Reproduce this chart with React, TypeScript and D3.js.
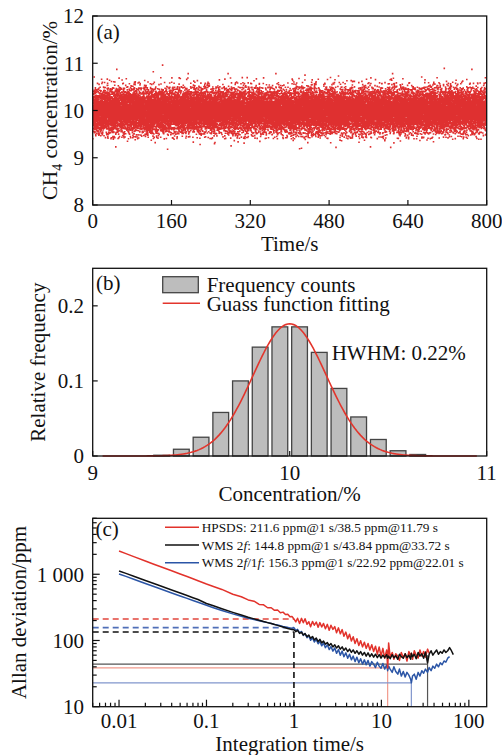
import React from 'react';
import * as d3 from 'd3';

const FONT = "'Liberation Serif','Times New Roman',Times,serif";

// ---------- Panel (a): CH4 concentration time series ----------
const TIME_DOMAIN: [number, number] = [0, 800];
const CONC_DOMAIN: [number, number] = [8, 12];
const TIME_TICKS = [0, 160, 320, 480, 640, 800];
const CONC_TICKS = [8, 9, 10, 11, 12];
// isolated outlying samples
const OUTLIER_T = [3, 49, 123, 142, 194, 275, 372, 431, 499, 556, 609, 668, 714, 770, 47, 127, 152, 218, 281, 420, 424, 494, 564, 605, 692, 731];
const OUTLIER_V = [10.71, 10.87, 10.82, 10.96, 10.78, 10.78, 10.78, 10.75, 10.73, 10.66, 10.78, 10.71, 10.89, 10.87, 9.23, 9.32, 9.18, 9.28, 9.25, 9.19, 9.2, 9.22, 9.23, 9.22, 9.34, 9.39];
const SAMPLE_COUNT = 30000;

// ---------- Panel (b): histogram ----------
const BIN_CENTERS = [9.35, 9.45, 9.55, 9.65, 9.75, 9.85, 9.95, 10.05, 10.15, 10.25, 10.35, 10.45, 10.55, 10.65];
const BIN_FREQ = [0.001, 0.009, 0.025, 0.058, 0.1, 0.145, 0.172, 0.172, 0.138, 0.09, 0.052, 0.022, 0.007, 0.002];
const BIN_WIDTH = 0.1;
const HIST_X_TICKS = [9, 10, 11];
const HIST_Y_TICKS = [0, 0.1, 0.2];
const FIT_CENTER = 10.0;
const FIT_PEAK = 0.176;
const FIT_HWHM = 0.22;
const FIT_RANGE: [number, number] = [9.05, 10.95];

// ---------- Panel (c): Allan deviation ----------
const TAU = [
  0.01, 0.012, 0.015, 0.02, 0.025, 0.03, 0.04, 0.05, 0.06, 0.07, 0.08, 0.1, 0.12, 0.15, 0.2, 0.25, 0.3, 0.35, 0.4, 0.45,
  0.5, 0.55, 0.6, 0.65, 0.7, 0.75, 0.8, 0.85, 0.9, 0.95,
  1.0, 1.05, 1.1, 1.16, 1.22, 1.28, 1.34, 1.41, 1.48, 1.55, 1.63, 1.71, 1.8, 1.89, 1.98, 2.08, 2.18, 2.29, 2.41, 2.53,
  2.65, 2.79, 2.93, 3.07, 3.23, 3.39, 3.56, 3.73, 3.92, 4.12, 4.32, 4.54, 4.76, 5.0, 5.25, 5.52, 5.79, 6.08, 6.39, 6.7,
  7.04, 7.39, 7.76, 8.15, 8.56, 8.99, 9.43, 9.9, 10.4, 10.9, 11.5, 11.79, 12.1, 12.6, 13.3, 13.9, 14.6, 15.4, 16.1, 16.9,
  17.8, 18.7, 19.6, 20.6, 21.6, 22.01, 22.7, 23.8, 25.0, 26.3, 27.6, 29.0, 30.4, 31.9, 33.72, 35.2, 37.0, 38.8, 40.7, 42.8,
  44.9, 47.2, 49.5, 52.0, 54.6, 57.3, 60.2, 63.2, 66.4,
];
const ADEV_HPSDS: (number | null)[] = [
  2240, 2050, 1830, 1590, 1420, 1300, 1130, 1010, 925, 855, 800, 712, 655, 590, 500, 458, 410, 392, 350, 345,
  312, 312, 285, 288, 262, 268, 246, 249, 228, 231,
  211.6, 191, 217, 181, 216, 185, 213, 176, 192, 161, 194, 170, 190, 158, 186, 160, 181, 150, 175, 143,
  170, 147, 162, 131, 155, 126, 146, 116, 134, 106, 124, 98, 114, 90, 106, 84, 99, 80, 94, 76,
  90, 72, 86, 68, 82, 62, 80, 58, 76, 54, 72, 38.5, 92, 56, 66, 52, 63, 58, 50, 66,
  55, 63, 49, 68, 58, 64, 52, 70, 60, 54, 72, 58, 68, 56, 74, 64, null, null, null, null,
  null, null, null, null, null, null, null, null, null,
];
const ADEV_WMS2F: (number | null)[] = [
  1120, 1030, 925, 805, 725, 665, 580, 520, 477, 443, 415, 362, 335, 302, 266, 242, 224, 212, 202, 193,
  186, 180, 174, 169, 164, 160, 156, 152, 149, 146,
  144.8, 136, 142, 128, 133, 121, 127, 114, 121, 108, 115, 102, 109, 96, 104, 92, 98, 88, 93, 84,
  90, 80, 86, 77, 83, 74, 80, 71, 77, 68, 74, 66, 72, 64, 70, 62, 68, 60, 66, 58,
  65, 57, 63, 56, 62, 55, 61, 54, 60, 55, 61, 54, 58, 53, 61, 55, 59, 52, 62, 57,
  54, 63, 55, 60, 52, 64, 57, 62, 53, 66, 58, 63, 54, 67, 46, 62, 70, 60, 66, 72,
  62, 68, 64, 72, 66, 70, 78, 70, 61,
];
const ADEV_WMS2F1F: (number | null)[] = [
  1010, 930, 835, 725, 652, 598, 522, 470, 432, 402, 378, 340, 313, 283, 252, 232, 217, 207, 199, 192,
  186, 180, 175, 171, 167, 163, 160, 157, 155, 153,
  156.3, 142, 147, 130, 137, 119, 127, 110, 119, 101, 110, 95, 104, 89, 97, 83, 92, 78, 86, 73,
  81, 69, 77, 64, 73, 60, 69, 57, 65, 54, 62, 51, 58, 48, 56, 46, 53, 44, 51, 43,
  50, 41, 48, 44, 39, 47, 41, 38, 45, 37, 43, 35, 41, 37, 33, 40, 34, 31, 37, 29,
  34, 28, 33, 30, 26, 22.92, 29, 31, 26, 33, 29, 35, 32, 37, 33, 39, 35, 41, 38, 44,
  40, 46, 43, 49, 47, 54, 57, null, null,
];
const SERIES_NAMES = ['HPSDS', 'WMS 2f', 'WMS 2f/1f'];
const SERIES_STATS = [
  ': 211.6 ppm@1 s/38.5 ppm@11.79 s',
  ': 144.8 ppm@1 s/43.84 ppm@33.72 s',
  ': 156.3 ppm@1 s/22.92 ppm@22.01 s',
];
const SERIES_COLORS = ['#e2322b', '#111111', '#2b55a6'];
const DASH_LEVEL_1S = [211.6, 134, 156.3];
const DASH_COLORS = ['#e2463d', '#111111', '#4f6fb8'];
const MIN_TAU = [11.79, 33.72, 22.01];
const MIN_VAL = [38.5, 43.84, 22.92];
const MIN_VTOP = [58, 60, 22.92];
const MIN_COLORS = ['#f29a8c', '#555555', '#8196cc'];
const ADEV_X_DOMAIN: [number, number] = [0.005, 160];
const ADEV_Y_DOMAIN: [number, number] = [10, 7000];

// ---------- layout ----------
const W = 502;
const H = 755;
const L = 92.7;
const R = 486.7;
const A_TOP = 16, A_BOT = 205;
const B_TOP = 268.3, B_BOT = 456;
const C_TOP = 518.3, C_BOT = 706.7;

const fs = 21;

function sampleSeries(): [number, number][] {
  // samples resampled from the histogram of panel (b)
  const total = d3.sum(BIN_FREQ);
  const cum: number[] = [0];
  BIN_FREQ.forEach((f, i) => cum.push(cum[i] + f / total));
  const pts: [number, number][] = [];
  for (let k = 0; k < SAMPLE_COUNT; k++) {
    const u = ((k + 0.5) * 0.6180339887498949) % 1;
    const v = ((k * 0.7548776662466927 + k * k * 0.0000131) % 1 + 1) % 1;
    let i = d3.bisectRight(cum, v) - 1;
    i = Math.max(0, Math.min(BIN_FREQ.length - 1, i));
    const frac = (v - cum[i]) / (cum[i + 1] - cum[i] || 1);
    const val = BIN_CENTERS[i] - BIN_WIDTH / 2 + frac * BIN_WIDTH;
    pts.push([u * TIME_DOMAIN[1], val]);
  }
  OUTLIER_T.forEach((t, i) => pts.push([t, OUTLIER_V[i]]));
  return pts;
}

export default function App() {
  // ---- panel a
  const xa = d3.scaleLinear().domain(TIME_DOMAIN).range([L, R]);
  const ya = d3.scaleLinear().domain(CONC_DOMAIN).range([A_BOT, A_TOP]);
  const pts = React.useMemo(() => sampleSeries(), []);
  const dotPath = pts
    .map(([t, v]) => `M${(xa(t) - 0.8).toFixed(1)},${(ya(v) - 0.8).toFixed(1)}h1.6v1.6h-1.6z`)
    .join('');

  // ---- panel b
  const xb = d3.scaleLinear().domain([9, 11]).range([L, R]);
  const yb = d3.scaleLinear().domain([0, 0.25]).range([B_BOT, B_TOP]);
  const sigma = FIT_HWHM / Math.sqrt(2 * Math.log(2));
  const fitXs = d3.range(FIT_RANGE[0], FIT_RANGE[1] + 1e-9, 0.01);
  const fitLine = d3
    .line<number>()
    .x((x) => xb(x))
    .y((x) => yb(FIT_PEAK * Math.exp(-((x - FIT_CENTER) ** 2) / (2 * sigma * sigma))))(fitXs);

  // ---- panel c
  const xc = d3.scaleLog().domain(ADEV_X_DOMAIN).range([L, R]);
  const yc = d3.scaleLog().domain(ADEV_Y_DOMAIN).range([C_BOT, C_TOP]);
  const series = [ADEV_HPSDS, ADEV_WMS2F, ADEV_WMS2F1F];
  const lineGen = (vals: (number | null)[]) =>
    d3
      .line<number>()
      .defined((_, i) => vals[i] != null)
      .x((t) => xc(t))
      .y((_, i) => yc(vals[i] as number))(TAU);
  const xMinor = xc.ticks();
  const yMinor = yc.ticks();
  const isPow10 = (v: number) => Math.abs(Math.log10(v) - Math.round(Math.log10(v))) < 1e-6;
  const fmtX = (v: number) => (v >= 1 ? String(Math.round(v)) : String(+v.toFixed(2)));
  const fmtY = (v: number) => (v >= 1000 ? '1 000' : String(v));

  const frame = (top: number, bot: number) => (
    <rect x={L} y={top} width={R - L} height={bot - top} fill="none" stroke="#111" strokeWidth={1.3} />
  );

  const drawOrder = [2, 0, 1];

  return (
    <svg
      width={W}
      height={H}
      viewBox={`0 0 ${W} ${H}`}
      style={{ position: 'absolute', left: 0, top: 0, background: '#fff' }}
      fontFamily={FONT}
    >
      <rect x={0} y={0} width={W} height={H} fill="#fff" />
      {/* ================= Panel (a) ================= */}
      <clipPath id="clipA">
        <rect x={L} y={A_TOP} width={R - L} height={A_BOT - A_TOP} />
      </clipPath>
      <path d={dotPath} fill="#df3030" clipPath="url(#clipA)" />
      {TIME_TICKS.map((t) => (
        <g key={'ta' + t}>
          <line x1={xa(t)} x2={xa(t)} y1={A_BOT} y2={A_BOT - 5} stroke="#111" strokeWidth={1.2} />
          <text x={xa(t)} y={228} fontSize={fs} textAnchor="middle" fill="#111">
            {t}
          </text>
        </g>
      ))}
      {CONC_TICKS.map((v) => (
        <g key={'ca' + v}>
          <line x1={L} x2={L + 5} y1={ya(v)} y2={ya(v)} stroke="#111" strokeWidth={1.2} />
          <text x={84} y={ya(v)} dy="0.35em" fontSize={fs} textAnchor="end" fill="#111">
            {v}
          </text>
        </g>
      ))}
      {frame(A_TOP, A_BOT)}
      <text x={96.5} y={38.5} fontSize={fs} fill="#111">(a)</text>
      <text x={(L + R) / 2} y={250.5} fontSize={fs} textAnchor="middle" fill="#111">Time/s</text>
      <text transform={`translate(56.5,${(A_TOP + A_BOT) / 2}) rotate(-90)`} fontSize={fs} textAnchor="middle" fill="#111">
        CH<tspan fontSize={14} dy={5}>4</tspan>
        <tspan dy={-5}> concentration/%</tspan>
      </text>

      {/* ================= Panel (b) ================= */}
      {BIN_CENTERS.map((c, i) => (
        <rect
          key={'bar' + i}
          x={xb(c - 0.04)}
          y={yb(BIN_FREQ[i])}
          width={xb(c + 0.04) - xb(c - 0.04)}
          height={yb(0) - yb(BIN_FREQ[i])}
          fill="#bdbdbd"
          stroke="#444"
          strokeWidth={1.3}
        />
      ))}
      <path d={fitLine || ''} fill="none" stroke="#e3352c" strokeWidth={1.6} />
      {HIST_X_TICKS.map((t) => (
        <g key={'tb' + t}>
          <line x1={xb(t)} x2={xb(t)} y1={B_BOT} y2={B_BOT - 5} stroke="#111" strokeWidth={1.2} />
          <text x={xb(t)} y={479.5} fontSize={fs} textAnchor="middle" fill="#111">
            {t}
          </text>
        </g>
      ))}
      {HIST_Y_TICKS.map((v) => (
        <g key={'yb' + v}>
          <line x1={L} x2={L + 5} y1={yb(v)} y2={yb(v)} stroke="#111" strokeWidth={1.2} />
          <text x={84} y={yb(v)} dy="0.35em" fontSize={fs} textAnchor="end" fill="#111">
            {v}
          </text>
        </g>
      ))}
      {frame(B_TOP, B_BOT)}
      <text x={96} y={290} fontSize={fs} fill="#111">(b)</text>
      <rect x={162.7} y={276.7} width={35.6} height={16} fill="#bdbdbd" stroke="#444" strokeWidth={1.3} />
      <text x={206.7} y={291.5} fontSize={fs} fill="#111">Frequency counts</text>
      <line x1={162.7} x2={200} y1={303.3} y2={303.3} stroke="#e3352c" strokeWidth={1.6} />
      <text x={206.7} y={310.5} fontSize={fs} fill="#111">Guass function fitting</text>
      <text x={331.7} y={360} fontSize={fs} fill="#111">HWHM: 0.22%</text>
      <text x={(L + R) / 2} y={500.5} fontSize={fs} textAnchor="middle" fill="#111">Concentration/%</text>
      <text transform={`translate(44.5,${(B_TOP + B_BOT) / 2}) rotate(-90)`} fontSize={fs} textAnchor="middle" fill="#111">
        Relative frequency
      </text>

      {/* ================= Panel (c) ================= */}
      {MIN_TAU.map((t, i) => (
        <g key={'min' + i}>
          <line x1={L} x2={xc(t)} y1={yc(MIN_VAL[i])} y2={yc(MIN_VAL[i])} stroke={MIN_COLORS[i]} strokeWidth={1.2} />
          <line x1={xc(t)} x2={xc(t)} y1={yc(MIN_VTOP[i])} y2={C_BOT} stroke={MIN_COLORS[i]} strokeWidth={1.2} />
        </g>
      ))}
      {DASH_LEVEL_1S.map((v, i) => (
        <line key={'d' + i} x1={L} x2={xc(1)} y1={yc(v)} y2={yc(v)} stroke={DASH_COLORS[i]} strokeWidth={1.6} strokeDasharray="6,4" />
      ))}
      <line x1={xc(1)} x2={xc(1)} y1={yc(DASH_LEVEL_1S[1])} y2={C_BOT} stroke="#111" strokeWidth={1.6} strokeDasharray="6,4" />
      {drawOrder.map((i) => (
        <path key={'s' + i} d={lineGen(series[i]) || ''} fill="none" stroke={SERIES_COLORS[i]} strokeWidth={1.5} strokeLinejoin="round" />
      ))}
      {xMinor.map((t, i) => (
        <line key={'xm' + i} x1={xc(t)} x2={xc(t)} y1={C_BOT} y2={C_BOT - (isPow10(t) ? 7 : 4)} stroke="#111" strokeWidth={1.2} />
      ))}
      {xMinor.filter(isPow10).map((t) => (
        <text key={'xl' + t} x={xc(t)} y={728} fontSize={fs} textAnchor="middle" fill="#111">
          {fmtX(t)}
        </text>
      ))}
      {yMinor.map((v, i) => (
        <line key={'ym' + i} x1={L} x2={L + (isPow10(v) ? 7 : 4)} y1={yc(v)} y2={yc(v)} stroke="#111" strokeWidth={1.2} />
      ))}
      {yMinor.filter(isPow10).map((v) => (
        <text key={'yl' + v} x={84} y={yc(v)} dy="0.35em" fontSize={fs} textAnchor="end" fill="#111">
          {fmtY(v)}
        </text>
      ))}
      {frame(C_TOP, C_BOT)}
      <text x={95.5} y={536} fontSize={fs} fill="#111">(c)</text>
      {SERIES_NAMES.map((name, i) => {
        const y = 527.3 + i * 17.7;
        return (
          <g key={'lg' + i}>
            <line x1={165} x2={199} y1={y} y2={y} stroke={SERIES_COLORS[i]} strokeWidth={1.5} />
            <text x={201.7} y={y + 4.6} fontSize={13.3} fill="#111">
              {i === 0 && name}
              {i === 1 && (
                <>
                  WMS 2<tspan fontStyle="italic">f</tspan>
                </>
              )}
              {i === 2 && (
                <>
                  WMS 2<tspan fontStyle="italic">f</tspan>/1<tspan fontStyle="italic">f</tspan>
                </>
              )}
              {SERIES_STATS[i]}
            </text>
          </g>
        );
      })}
      <text x={(L + R) / 2} y={750.5} fontSize={fs} textAnchor="middle" fill="#111">Integration time/s</text>
      <text transform={`translate(25.5,${(C_TOP + C_BOT) / 2}) rotate(-90)`} fontSize={fs} textAnchor="middle" fill="#111">
        Allan deviation/ppm
      </text>
    </svg>
  );
}
